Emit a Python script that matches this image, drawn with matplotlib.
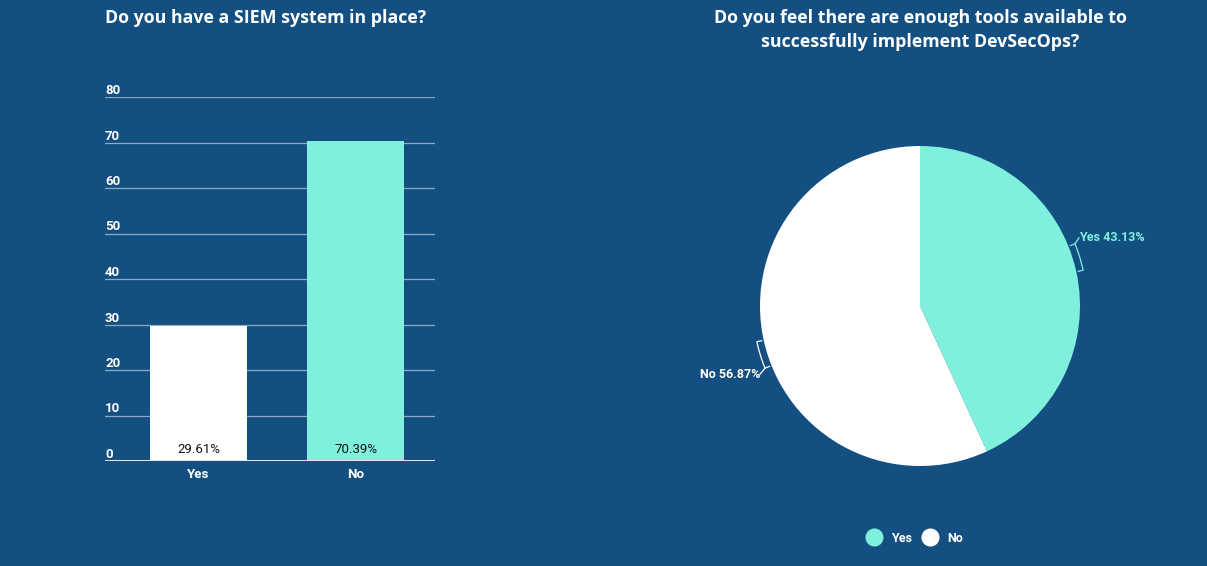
import numpy as np
import matplotlib.pyplot as plt
from matplotlib.lines import Line2D

plt.rcParams['font.family'] = ['Roboto', 'DejaVu Sans']

bg = '#134f81'
teal = '#7ef0dc'
white = '#ffffff'

# left chart
bar_title = "Do you have a SIEM system in place?"
bar_cats = ['Yes', 'No']
bar_vals = [29.61, 70.39]
bar_colors = [white, teal]
y_ticks = [0, 10, 20, 30, 40, 50, 60, 70, 80]

# right chart
pie_title = "Do you feel there are enough tools available to\nsuccessfully implement DevSecOps?"
pie_cats = ['Yes', 'No']
pie_vals = [43.13, 56.87]
pie_colors = [teal, white]
pie_label_colors = [teal, white]

W, H = 1207, 566
fig = plt.figure(figsize=(W / 100, H / 100), dpi=100, facecolor=bg)

# ---- bar chart ----
ax = fig.add_axes([105 / W, (H - 461) / H, 330 / W, 364 / H])
ax.set_facecolor(bg)
x = np.arange(len(bar_cats))
ax.bar(x, bar_vals, width=0.618, color=bar_colors, zorder=3)
ax.set_xlim(-0.596, 1.506)
ax.set_ylim(0, 80)
for t in y_ticks:
    if t > 0:
        ax.axhline(t, color='#8ea9c4', lw=0.9, zorder=1)
    ax.text(0, t, str(t), transform=ax.get_yaxis_transform(), color='white',
            fontsize=9.5, fontweight='bold', ha='left', va='bottom')
ax.axhline(0, color='#e4e4e4', lw=2.2, zorder=4)
for xi, v in zip(x, bar_vals):
    ax.text(xi, 1.2, f'{v:.2f}%', color='#111111', fontsize=9.5,
            ha='center', va='bottom', zorder=5)
ax.set_xticks(x)
ax.set_xticklabels(bar_cats, color='white', fontsize=9.5, fontweight='bold')
ax.tick_params(axis='x', length=0, pad=5)
ax.set_yticks([])
for s in ax.spines.values():
    s.set_visible(False)

fig.text(105 / W, 1 - 18 / H, bar_title, color='white', fontsize=12.8,
         family='Open Sans', fontweight='bold', ha='left', va='center')

# ---- pie chart (axes in pixel units) ----
pa = fig.add_axes([0, 0, 1, 1])
pa.patch.set_alpha(0)
cx, cy, r = 920, H - 306, 160
pa.pie(pie_vals, colors=pie_colors, startangle=90, counterclock=False,
       center=(cx, cy), radius=r, wedgeprops=dict(linewidth=0))
pa.set_xlim(0, W)
pa.set_ylim(0, H)
pa.set_aspect('auto')
pa.axis('off')

# leader brackets + labels
start = 90.0
for name, v, lc in zip(pie_cats, pie_vals, pie_label_colors):
    span = v / 100 * 360
    mid = start - span / 2
    start -= span
    a1, a2 = np.radians(mid), np.radians(mid + 9.5)
    th = np.linspace(a1, a2, 30)
    rr = r + 7
    xs = np.concatenate([[cx + (r + 2) * np.cos(a1)], cx + rr * np.cos(th), [cx + (r + 2) * np.cos(a2)]])
    ys = np.concatenate([[cy + (r + 2) * np.sin(a1)], cy + rr * np.sin(th), [cy + (r + 2) * np.sin(a2)]])
    pa.plot(xs, ys, color=lc, lw=0.9)
    ex, ey = cx + rr * np.cos(a2), cy + rr * np.sin(a2)
    if np.cos(a2) >= 0:
        tx, ty = ex + 4, ey + 6
        pa.plot([ex, tx], [ey, ty], color=lc, lw=0.9)
        pa.text(tx, ty, f'{name} {v:.2f}%', color=lc, fontsize=9, fontweight='bold',
                ha='left', va='center')
    else:
        tx, ty = ex - 5, ey - 6
        pa.plot([ex, tx], [ey, ty], color=lc, lw=0.9)
        pa.text(tx, ty, f'{name} {v:.2f}%', color=lc, fontsize=9, fontweight='bold',
                ha='right', va='center')

fig.text(920 / W, 1 - 30 / H, pie_title, color='white', fontsize=12.8,
         family='Open Sans', fontweight='bold', ha='center', va='center',
         linespacing=1.45)

handles = [Line2D([], [], marker='o', linestyle='', markersize=12,
                  markerfacecolor=c, markeredgecolor=c) for c in pie_colors]
leg = fig.legend(handles, pie_cats, loc='center', bbox_to_anchor=(915 / W, 1 - 538 / H),
                 ncol=2, frameon=False, handletextpad=0.9, columnspacing=0.9,
                 handlelength=1.0, prop={'weight': 'bold', 'size': 9})
for t in leg.get_texts():
    t.set_color('white')

fig.savefig('out.png', facecolor=bg)
